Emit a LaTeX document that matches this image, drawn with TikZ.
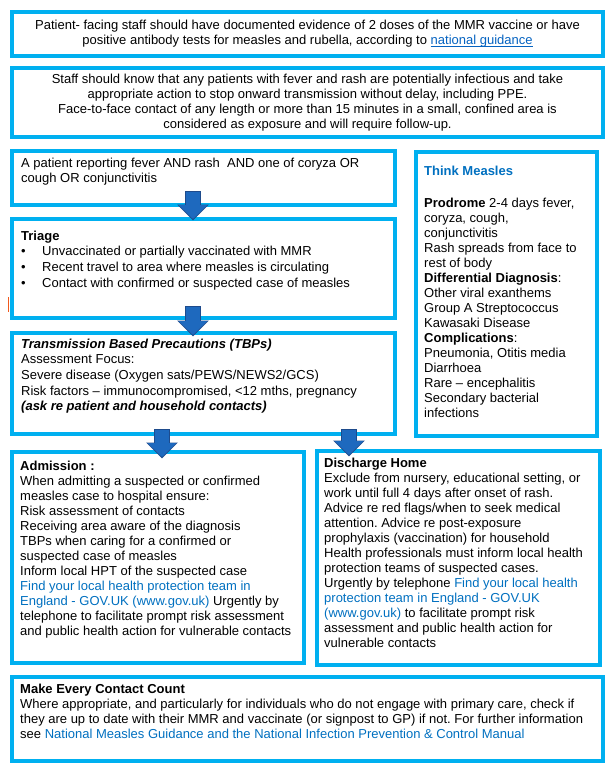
\documentclass[tikz,border=0pt]{standalone}
\usepackage{fontspec}
\setmainfont{Liberation Sans}
\usetikzlibrary{arrows.meta}
\definecolor{boxcyan}{RGB}{0,176,240}
\definecolor{arrowfill}{RGB}{30,105,190}
\definecolor{arrowline}{RGB}{30,75,140}
\definecolor{linkblue}{RGB}{0,112,192}
\definecolor{hyperblue}{RGB}{5,99,193}
\definecolor{markorange}{RGB}{240,90,30}
\newcommand{\clink}[1]{\textcolor{linkblue}{#1}}
\newcommand{\ulink}[1]{\textcolor{hyperblue}{\setbox0\hbox{#1}\rlap{\rule[-1.6pt]{\wd0}{0.9pt}}\box0}}
\frenchspacing

\begin{document}
\begin{tikzpicture}[x=1pt,y=-1pt,font=\fontsize{13}{15}\selectfont]
  \tikzstyle{box}=[draw=boxcyan,line width=4pt,fill=white,anchor=north west,inner sep=0pt]
  \tikzstyle{txt}=[anchor=north west,inner sep=0pt,align=left]
  \tikzstyle{loose}=[font=\fontsize{13}{15.7}\selectfont]
  \tikzstyle{flow}=[draw=arrowfill,line width=14pt,-{Triangle[width=28pt,length=14pt]},
    preaction={draw=arrowline,line width=16pt,-{Triangle[width=31pt,length=16pt]},shorten >=-1.5pt,shorten <=-1pt}]

  \useasboundingbox (0,0) rectangle (610,768);

  % frames
  \node[box,minimum width=591pt,minimum height=44pt,align=center] (ST) at (10,10)
    {Patient- facing staff should have documented evidence of 2 doses of the MMR vaccine or have\\
     positive antibody tests for measles and rubella, according to \ulink{national guidance}};
  \node[box,minimum width=591pt,minimum height=69pt,align=center] (SK) at (10,66)
    {Staff should know that any patients with fever and rash are potentially infectious and take\\
     appropriate action to stop onward transmission without delay, including PPE.\\
     Face-to-face contact of any length or more than 15 minutes in a small, confined area is\\
     considered as exposure and will require follow-up.};
  \node[box,minimum width=383pt,minimum height=54pt]  (PR) at (10,149)  {};
  \node[box,minimum width=181pt,minimum height=284pt] (TM) at (414,150) {};
  \node[box,minimum width=383pt,minimum height=99pt]  (TR) at (10,217)  {};
  \node[box,minimum width=383pt,minimum height=101pt] (TB) at (10,331)  {};
  \node[box,minimum width=292pt,minimum height=211pt] (AD) at (10,450)  {};
  \node[box,minimum width=283pt,minimum height=214pt] (DH) at (315,449) {};
  \node[box,minimum width=591pt,minimum height=84pt]  (MC) at (10,675)  {};
  \draw[markorange,line width=1.5pt] (8.5,297) -- (8.5,312);

  % texts
  \node[txt] (PRt) at (21,157.5) {A patient reporting fever AND rash\ \ AND one of coryza OR\\
    cough OR conjunctivitis};
  \node[txt] (TMt) at (424,165.5) {\clink{\textbf{Think Measles}}\\[17pt]
    \textbf{Prodrome} 2-4 days fever,\\
    coryza, cough,\\
    conjunctivitis\\
    Rash spreads from face to\\
    rest of body\\
    \textbf{Differential Diagnosis}:\\
    Other viral exanthems\\
    Group A Streptococcus\\
    Kawasaki Disease\\
    \textbf{Complications}:\\
    Pneumonia, Otitis media\\
    Diarrhoea\\
    Rare -- encephalitis\\
    Secondary bacterial\\
    infections};
  \node[txt,loose] (TRt) at (21,230.5) {\textbf{Triage}\\
    \makebox[21pt][l]{\textbullet}Unvaccinated or partially vaccinated with MMR\\
    \makebox[21pt][l]{\textbullet}Recent travel to area where measles is circulating\\
    \makebox[21pt][l]{\textbullet}Contact with confirmed or suspected case of measles};
  \node[txt,loose] (TBt) at (21,338.5) {\textbf{\textit{Transmission Based Precautions (TBPs)}}\\
    Assessment Focus:\\
    Severe disease (Oxygen sats/PEWS/NEWS2/GCS)\\
    Risk factors -- immunocompromised, <12 mths, pregnancy\\
    \textbf{\textit{(ask re patient and household contacts)}}};
  \node[txt] (ADt) at (20,460.5) {\textbf{Admission :}\\
    When admitting a suspected or confirmed\\
    measles case to hospital ensure:\\
    Risk assessment of contacts\\
    Receiving area aware of the diagnosis\\
    TBPs when caring for a confirmed or\\
    suspected case of measles\\
    Inform local HPT of the suspected case\\
    \clink{Find your local health protection team in}\\
    \clink{England - GOV.UK (www.gov.uk)} Urgently by\\
    telephone to facilitate prompt risk assessment\\
    and public health action for vulnerable contacts};
  \node[txt] (DHt) at (324,457.5) {\textbf{Discharge Home}\\
    Exclude from nursery, educational setting, or\\
    work until full 4 days after onset of rash.\\
    Advice re red flags/when to seek medical\\
    attention. Advice re post-exposure\\
    prophylaxis (vaccination) for household\\
    Health professionals must inform local health\\
    protection teams of suspected cases.\\
    Urgently by telephone \clink{Find your local health}\\
    \clink{protection team in England - GOV.UK}\\
    \clink{(www.gov.uk)} to facilitate prompt risk\\
    assessment and public health action for\\
    vulnerable contacts};
  \node[txt] (MCt) at (20,683.5) {\textbf{Make Every Contact Count}\\
    Where appropriate, and particularly for individuals who do not engage with primary care, check if\\
    they are up to date with their MMR and vaccinate (or signpost to GP) if not. For further information\\
    see \clink{National Measles Guidance and the National Infection Prevention \& Control Manual}};

  % arrows
  \draw[flow] ([xshift=-10.5pt,yshift=15pt]PR.south) -- ([xshift=-10.5pt,yshift=-2pt]TR.north);
  \draw[flow] ([xshift=-10.5pt,yshift=13pt]TR.south) -- ([xshift=-10.5pt,yshift=-4pt]TB.north);
  \draw[flow] ([xshift=-41.5pt,yshift=6pt]TB.south) -- ([xshift=4pt,yshift=-7pt]AD.north);
  \draw[flow] ([xshift=145.5pt,yshift=6pt]TB.south) -- ([xshift=-109.5pt,yshift=-6pt]DH.north);
\end{tikzpicture}
\end{document}
